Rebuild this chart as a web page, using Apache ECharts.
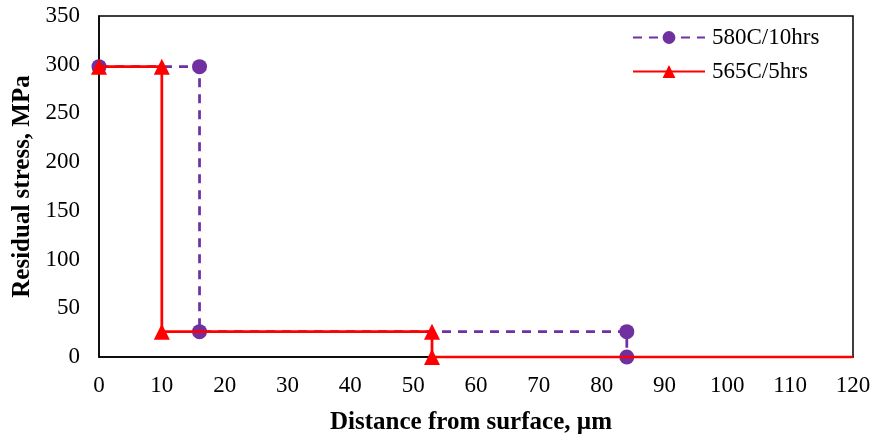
<!DOCTYPE html>
<html><head><meta charset="utf-8">
<script src="https://cdn.jsdelivr.net/npm/echarts@6/dist/echarts.min.js"></script>
<style>html,body{margin:0;padding:0;background:#fff}#c{width:873px;height:438px}</style>
</head><body><div id="c"></div>
<script>
const seriesNames = ['580C/10hrs', '565C/5hrs'];
const s580x = [0, 16, 16, 84, 84];
const s580y = [298, 298, 26, 26, 0];
const s565x = [0, 10, 10, 53, 53, 120];
const s565y = [298, 298, 26, 26, 0, 0];
const xTicks = [0, 10, 20, 30, 40, 50, 60, 70, 80, 90, 100, 110, 120];
const yTicks = [0, 50, 100, 150, 200, 250, 300, 350];

const font = '"Liberation Serif", "Times New Roman", serif';
const chart = echarts.init(document.getElementById('c'));
const d580 = s580x.map((x, i) => [x, s580y[i]]);
const d565 = s565x.map((x, i) => ({value: [x, s565y[i]], symbol: i === s565x.length - 1 ? 'none' : 'triangle'}));
chart.setOption({
  animation: false,
  textStyle: {fontFamily: font},
  grid: {left: 99, right: 20, top: 16, bottom: 81, show: true, borderColor: '#000', borderWidth: 1.5,
         containLabel: false, outerBoundsMode: 'none'},
  legend: {
    orient: 'vertical', left: 627, top: 21, itemWidth: 72, itemHeight: 16, itemGap: 11,
    textStyle: {fontFamily: font, fontSize: 23, color: '#000', padding: [0, 0, 0, 2]},
    data: seriesNames
  },
  xAxis: {
    type: 'value', min: xTicks[0], max: xTicks[xTicks.length - 1], interval: 10,
    axisLine: {lineStyle: {color: '#000', width: 1.5}},
    axisTick: {show: false}, splitLine: {show: false},
    axisLabel: {fontFamily: font, fontSize: 23, color: '#000', margin: 17},
    name: 'Distance from surface, µm', nameLocation: 'middle', nameGap: 53,
    nameTextStyle: {fontFamily: font, fontSize: 25, fontWeight: 'bold', color: '#000', padding: [0, 0, 0, -10]}
  },
  yAxis: {
    type: 'value', min: yTicks[0], max: yTicks[yTicks.length - 1], interval: 50,
    axisLine: {show: true, lineStyle: {color: '#000', width: 1.5}},
    axisTick: {show: false}, splitLine: {show: false},
    axisLabel: {fontFamily: font, fontSize: 23, color: '#000', margin: 19},
    name: 'Residual stress, MPa', nameLocation: 'middle', nameGap: 64,
    nameTextStyle: {fontFamily: font, fontSize: 25, fontWeight: 'bold', color: '#000'}
  },
  series: [
    {
      name: seriesNames[0], type: 'line', data: d580,
      symbol: 'circle', symbolSize: 15,
      itemStyle: {color: '#7030A0'},
      lineStyle: {color: '#7030A0', width: 2.75, type: [9, 7]},
      z: 2
    },
    {
      name: seriesNames[1], type: 'line', data: d565,
      symbol: 'triangle', symbolSize: 16,
      itemStyle: {color: '#FF0000'},
      lineStyle: {color: '#FF0000', width: 2.75},
      z: 3
    }
  ]
});
</script></body></html>
